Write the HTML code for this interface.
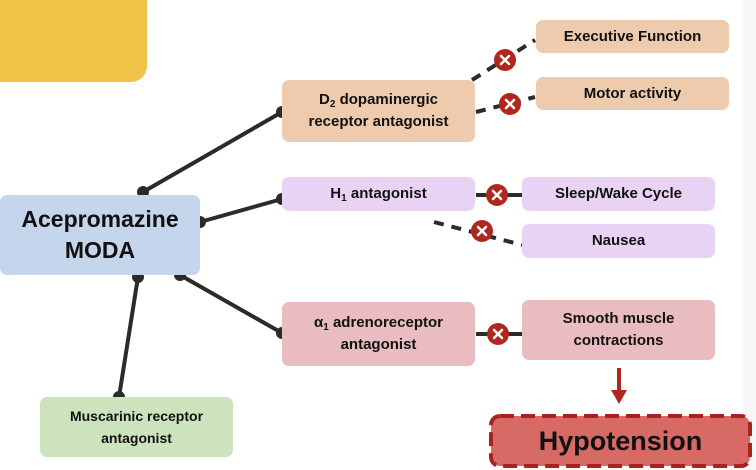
<!DOCTYPE html>
<html><head><meta charset="utf-8"><style>
body{margin:0;width:756px;height:470px;background:#fff;position:relative;overflow:hidden;font-family:"Liberation Sans",sans-serif;}
.b{position:absolute;display:flex;align-items:center;justify-content:center;text-align:center;border-radius:7px;font-weight:bold;color:#111;font-size:15px;line-height:22px;}
sub{font-size:10px;line-height:0;vertical-align:-3px}
svg{position:absolute;left:0;top:0}
</style></head><body>
<div style="position:absolute;left:0;top:0;width:147px;height:82px;background:#f0c245;border-bottom-right-radius:16px"></div>
<div style="position:absolute;left:742px;top:0;width:14px;height:470px;background:#f7f7f7"></div>
<svg width="756" height="470">
<g stroke="#2b2b2b" stroke-width="4" stroke-linecap="round" fill="#2b2b2b">
<line x1="143" y1="192" x2="282" y2="112"/><circle cx="143" cy="192" r="4"/><circle cx="282" cy="112" r="4"/>
<line x1="200" y1="222" x2="282" y2="199"/><circle cx="200" cy="222" r="4"/><circle cx="282" cy="199" r="4"/>
<line x1="180" y1="275" x2="282" y2="333"/><circle cx="180" cy="275" r="4"/><circle cx="282" cy="333" r="4"/>
<line x1="138" y1="277" x2="119" y2="397"/><circle cx="138" cy="277" r="4"/><circle cx="119" cy="397" r="4"/>
</g>
<g stroke="#2b2b2b" stroke-width="4" stroke-dasharray="10,8" fill="none">
<line x1="472" y1="80" x2="535" y2="40"/>
<line x1="476" y1="112" x2="535" y2="97"/>
<line x1="434" y1="222" x2="522" y2="245"/>
</g>
<g stroke="#2b2b2b" stroke-width="4">
<line x1="476" y1="195" x2="522" y2="195"/>
<line x1="476" y1="334" x2="522" y2="334"/>
</g>
<g fill="#b0271f">
<circle cx="505" cy="60" r="11"/><circle cx="510" cy="104" r="11"/><circle cx="497" cy="195" r="11"/><circle cx="482" cy="231" r="11"/><circle cx="498" cy="334" r="11"/>
</g>
<g stroke="#fff" stroke-width="2.5" stroke-linecap="round">
<path d="M501 56l8 8M509 56l-8 8"/><path d="M506 100l8 8M514 100l-8 8"/><path d="M493 191l8 8M501 191l-8 8"/><path d="M478 227l8 8M486 227l-8 8"/><path d="M494 330l8 8M502 330l-8 8"/>
</g>
<line x1="619" y1="368" x2="619" y2="392" stroke="#b0271f" stroke-width="4"/>
<polygon points="611,390 627,390 619,404" fill="#b0271f"/>
<rect x="491" y="416" width="259" height="50" rx="9" fill="#d86a66" stroke="#a8231e" stroke-width="4" stroke-dasharray="14,7"/>
</svg>
<div class="b" style="left:0;top:195px;width:200px;height:80px;background:#c5d6ec;font-size:23px;line-height:31px"><span>Acepromazine<br>MODA</span></div>
<div class="b" style="left:282px;top:80px;width:193px;height:62px;background:#efcbad"><span>D<sub>2</sub> dopaminergic<br>receptor antagonist</span></div>
<div class="b" style="left:536px;top:20px;width:193px;height:33px;background:#efcbad"><span>Executive Function</span></div>
<div class="b" style="left:536px;top:77px;width:193px;height:33px;background:#efcbad"><span>Motor activity</span></div>
<div class="b" style="left:282px;top:177px;width:193px;height:34px;background:#e8d3f4"><span>H<sub>1</sub> antagonist</span></div>
<div class="b" style="left:522px;top:177px;width:193px;height:34px;background:#e8d3f4"><span>Sleep/Wake Cycle</span></div>
<div class="b" style="left:522px;top:224px;width:193px;height:34px;background:#e8d3f4"><span>Nausea</span></div>
<div class="b" style="left:282px;top:302px;width:193px;height:64px;background:#e8bcc0"><span>α<sub>1</sub> adrenoreceptor<br>antagonist</span></div>
<div class="b" style="left:522px;top:300px;width:193px;height:60px;background:#e8bcc0"><span>Smooth muscle<br>contractions</span></div>
<div class="b" style="left:40px;top:397px;width:193px;height:60px;background:#cde3be;font-size:14px"><span>Muscarinic receptor<br>antagonist</span></div>
<div class="b" style="left:491px;top:416px;width:259px;height:50px;font-size:27px"><span>Hypotension</span></div>
</body></html>
